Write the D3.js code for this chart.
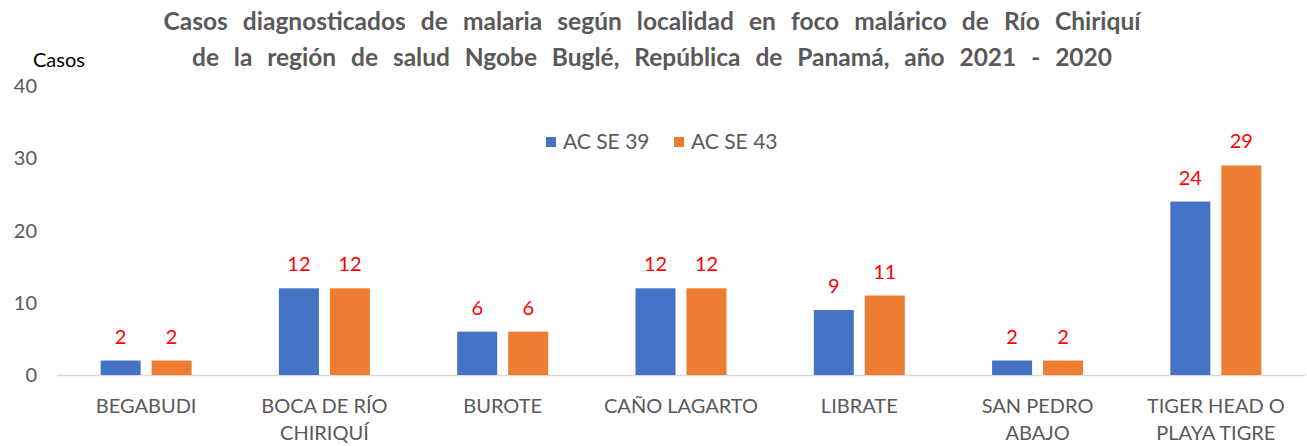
<!DOCTYPE html>
<html><head><meta charset="utf-8">
<script src="https://cdn.jsdelivr.net/npm/d3@7"></script>
<style>body{margin:0;background:#fff;} text{font-family:Lato,"Open Sans",sans-serif;}</style>
</head><body>
<svg id="c" width="1307" height="446"></svg>
<script>
const categories = ["BEGABUDI", "BOCA DE RÍO|CHIRIQUÍ", "BUROTE", "CAÑO LAGARTO", "LIBRATE", "SAN PEDRO|ABAJO", "TIGER HEAD O|PLAYA TIGRE"];
const seriesNames = ["AC SE 39", "AC SE 43"];
const se39 = [2, 12, 6, 12, 9, 2, 24];
const se43 = [2, 12, 6, 12, 11, 2, 29];
const yTicks = [0, 10, 20, 30, 40];
const colors = ["#4472C4", "#ED7D31"];
const titleLines = ["Casos diagnosticados de malaria según localidad en foco malárico de Río Chiriquí", "de la región de salud Ngobe Buglé, República de Panamá, año 2021 - 2020"];
const titleWidths = [977, 920];

const svg = d3.select("#c");
const x = d3.scaleBand().domain(categories).range([57, 1305]);
const y = d3.scaleLinear().domain([0, 40]).range([375, 86]);
const barW = 40, gap = 11;

// title
svg.selectAll("text.title").data(titleLines).join("text").attr("class","title")
  .attr("x", 652).attr("y", (d,i)=>30 + i*36).attr("text-anchor","middle")
  .attr("font-size", 24.5).attr("font-weight","bold").attr("fill","#595959").text(d=>d)
  .each(function(d,i){
    const w = this.getComputedTextLength();
    const spaces = (d.match(/ /g)||[]).length;
    const ws = Math.max(0, (titleWidths[i]-w)/spaces);
    d3.select(this).attr("word-spacing", ws);
  });

svg.append("text").attr("x",33).attr("y",67).attr("font-size",20).attr("fill","#000").text("Casos");

// y ticks
svg.selectAll("text.yt").data(yTicks).join("text").attr("class","yt")
  .attr("x", 37).attr("y", d=>y(d)+7).attr("text-anchor","end")
  .attr("font-size",20).attr("fill","#595959").text(d=>d);

// axis line
svg.append("line").attr("x1",57).attr("x2",1305).attr("y1",y(0)+0.5).attr("y2",y(0)+0.5)
  .attr("stroke","#D9D9D9").attr("stroke-width",1.5);

const series = [se39, se43];
series.forEach((vals, s) => {
  const g = svg.append("g");
  const xpos = (c) => x(c) + x.bandwidth()/2 + (s===0 ? -(gap/2+barW) : gap/2);
  g.selectAll("rect").data(categories).join("rect")
    .attr("x", c=>xpos(c)).attr("width", barW)
    .attr("y", (c,i)=>y(vals[i])).attr("height",(c,i)=>y(0)-y(vals[i]))
    .attr("fill", colors[s]);
  g.selectAll("text").data(categories).join("text")
    .attr("x", c=>xpos(c)+barW/2).attr("y",(c,i)=>y(vals[i])-17)
    .attr("text-anchor","middle").attr("font-size",20).attr("fill","#FF0000")
    .text((c,i)=>vals[i]);
});

// x labels
categories.forEach(c => {
  const lines = c.split("|");
  const t = svg.append("text").attr("text-anchor","middle").attr("font-size",20).attr("fill","#595959");
  lines.forEach((l,i)=>t.append("tspan").attr("x", x(c)+x.bandwidth()/2).attr("y", 413 + i*27).text(l));
});

// legend
const leg = svg.append("g");
const legX = [546, 674];
seriesNames.forEach((n,i)=>{
  leg.append("rect").attr("x",legX[i]).attr("y",137).attr("width",10).attr("height",10).attr("fill",colors[i]);
  leg.append("text").attr("x",legX[i]+17).attr("y",149).attr("font-size",21).attr("fill","#595959").text(n);
});
</script>
</body></html>
